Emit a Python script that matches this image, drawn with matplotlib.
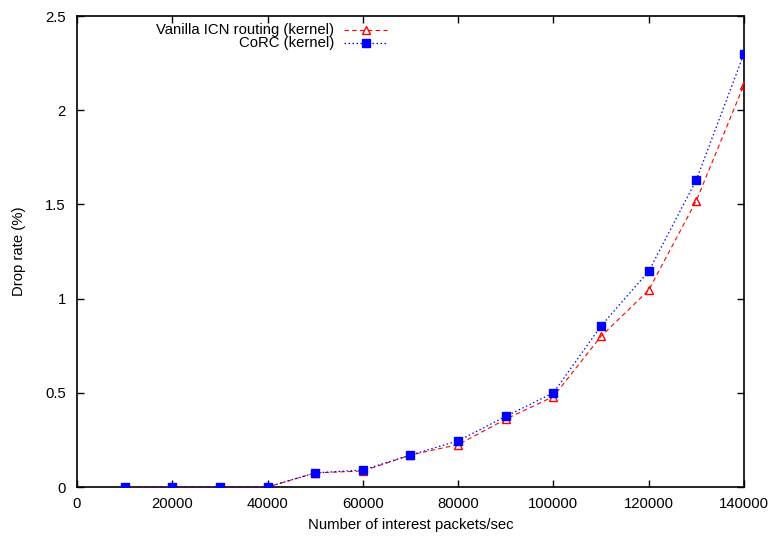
import matplotlib
matplotlib.use("Agg")
import matplotlib.pyplot as plt
from matplotlib.lines import Line2D
from matplotlib.ticker import FuncFormatter

plt.rcParams.update({"font.family": ["Liberation Sans", "DejaVu Sans"], "font.size": 10.7})

rate = [10000, 20000, 30000, 40000, 50000, 60000, 70000,
        80000, 90000, 100000, 110000, 120000, 130000, 140000]
vanilla = [0, 0, 0, 0, 0.075, 0.085, 0.17, 0.225, 0.36, 0.48, 0.80, 1.045, 1.52, 2.135]
corc = [0, 0, 0, 0, 0.075, 0.09, 0.17, 0.245, 0.375, 0.50, 0.855, 1.145, 1.63, 2.30]
labels = ["Vanilla ICN routing (kernel)", "CoRC (kernel)"]

fig = plt.figure(figsize=(7.74, 5.36), dpi=100)
ax = fig.add_axes([0.0995, 0.0914, 0.8617, 0.8787])

red = dict(color="#ff0000", ls=(0, (4, 3)), lw=0.8, marker="^", ms=5.5,
           mfc="none", mec="#ff0000", mew=1.0)
blue = dict(color="#0000ff", ls=(0, (1.2, 2)), lw=0.9, marker="s", ms=5.5,
            mfc="#0000ff", mec="#0000ff")
ax.plot(rate, vanilla, **red, zorder=3)
ax.plot(rate, corc, **blue, zorder=4)

ax.set_xlim(0, 140000)
ax.set_ylim(0, 2.5)
ax.set_xticks(range(0, 140001, 20000))
ax.set_yticks([0, 0.5, 1, 1.5, 2, 2.5])
ax.yaxis.set_major_formatter(FuncFormatter(lambda v, p: f"{v:g}"))
ax.tick_params(direction="in", length=5, width=1, top=True, right=True,
               labelsize=10.7)
ax.tick_params(axis="x", pad=7)
ax.tick_params(axis="y", pad=8)
for s in ax.spines.values():
    s.set_linewidth(1.2)

ax.set_xlabel("Number of interest packets/sec", labelpad=5)
ax.set_ylabel("Drop rate (%)", labelpad=14)

# gnuplot-style key: right-aligned text, sample to its right
W, H = 774, 536
bb = ax.get_position()
def ax_frac(px, py):
    return ((px / W - bb.x0) / bb.width, ((H - py) / H - bb.y0) / bb.height)

for (lab, sty, py) in [(labels[0], red, 30), (labels[1], blue, 43)]:
    tx, ty = ax_frac(334, py)
    ax.text(tx, ty, lab, transform=ax.transAxes, ha="right", va="center")
    x0, y0 = ax_frac(344, py)
    x1, _ = ax_frac(387, py)
    xm, _ = ax_frac(366, py)
    line_sty = {k: v for k, v in sty.items() if not k.startswith("m")}
    ax.add_line(Line2D([x0, x1], [y0, y0], transform=ax.transAxes, **line_sty))
    mk = {k: v for k, v in sty.items() if k.startswith("m") or k == "color"}
    ax.add_line(Line2D([xm], [y0], transform=ax.transAxes, ls="none", **mk))

fig.savefig("out.png", dpi=100)
